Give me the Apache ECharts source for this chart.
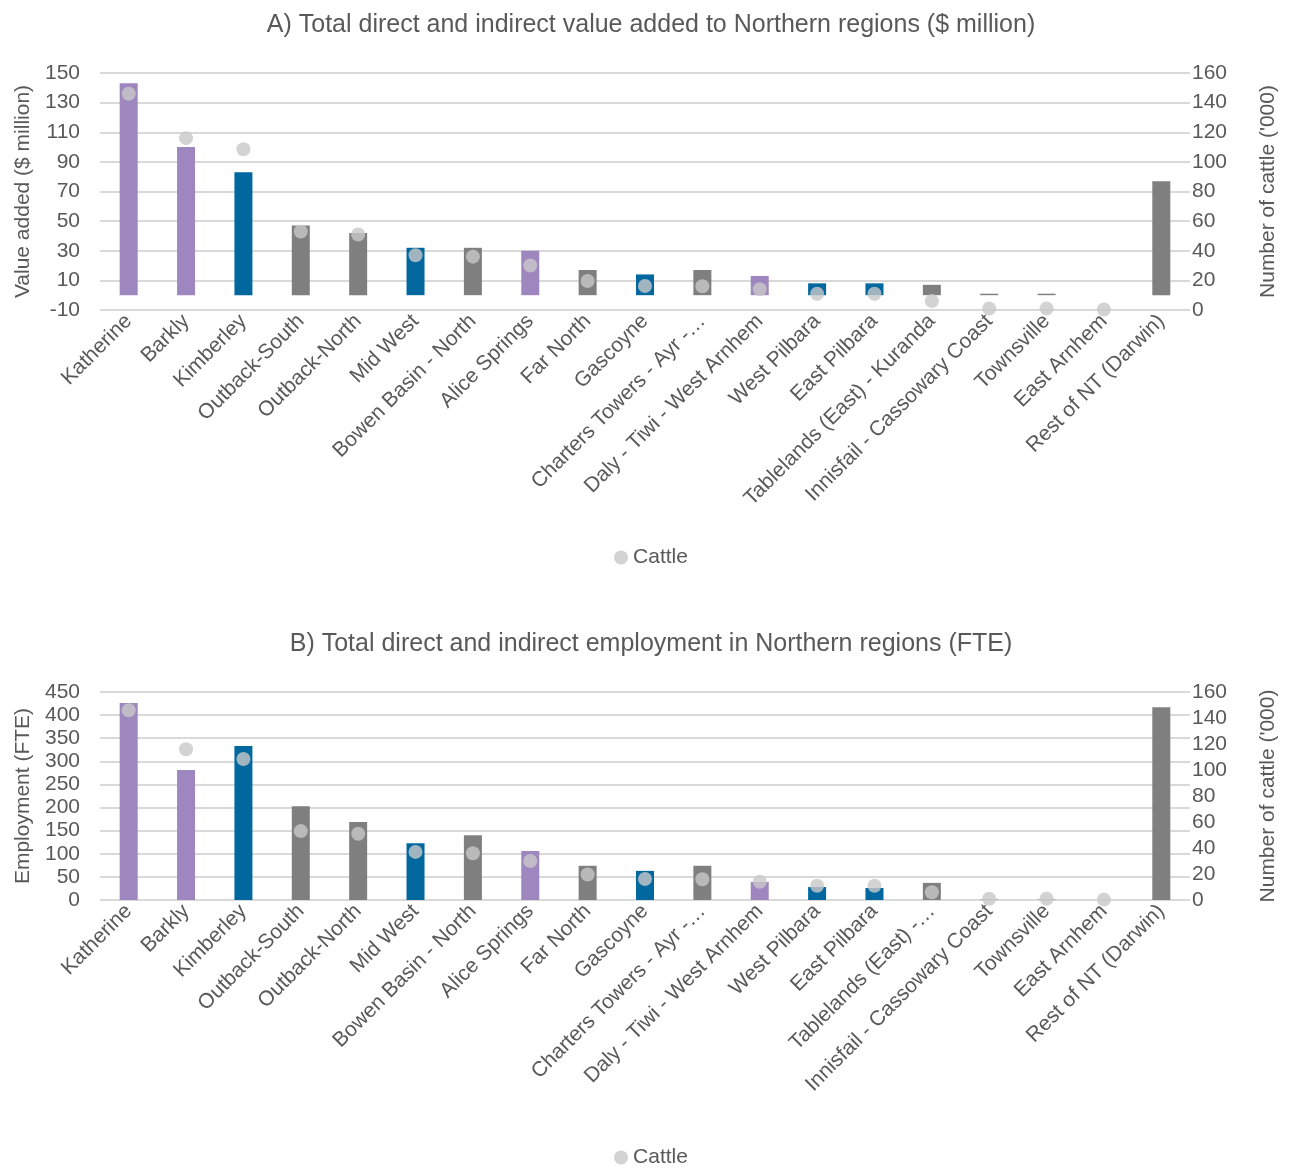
<!DOCTYPE html>
<html>
<head>
<meta charset="utf-8">
<script src="https://cdn.jsdelivr.net/npm/echarts@6/dist/echarts.min.js"></script>
<style>
html,body{margin:0;padding:0;background:#fff;}
#c{width:1302px;height:1169px;}
</style>
</head>
<body>
<div id="c"></div>
<script>
var categories = ["Katherine","Barkly","Kimberley","Outback-South","Outback-North","Mid West","Bowen Basin - North","Alice Springs","Far North","Gascoyne","Charters Towers - Ayr - Ingham","Daly - Tiwi - West Arnhem","West Pilbara","East Pilbara","Tablelands (East) - Kuranda","Innisfail - Cassowary Coast","Townsville","East Arnhem","Rest of NT (Darwin)"];
var labelsA = ["Katherine","Barkly","Kimberley","Outback-South","Outback-North","Mid West","Bowen Basin - North","Alice Springs","Far North","Gascoyne","Charters Towers - Ayr -\u2026","Daly - Tiwi - West Arnhem","West Pilbara","East Pilbara","Tablelands (East) - Kuranda","Innisfail - Cassowary Coast","Townsville","East Arnhem","Rest of NT (Darwin)"];
var labelsB = ["Katherine","Barkly","Kimberley","Outback-South","Outback-North","Mid West","Bowen Basin - North","Alice Springs","Far North","Gascoyne","Charters Towers - Ayr -\u2026","Daly - Tiwi - West Arnhem","West Pilbara","East Pilbara","Tablelands (East) -\u2026","Innisfail - Cassowary Coast","Townsville","East Arnhem","Rest of NT (Darwin)"];
var regionGroup = ["NT","NT","WA","QLD","QLD","WA","QLD","NT","QLD","WA","QLD","NT","WA","WA","QLD","QLD","QLD","NT","OTHER"];
var valueAdded = [143, 100, 83, 47, 42, 32, 32, 30, 17, 14, 17, 13, 8, 8, 7, 1, 1, 0, 77];
var employment = [426, 281, 333, 203, 169, 123, 140, 106, 74, 63, 74, 39, 28, 26, 37, 1, 1, 0, 417];
var cattle = [146, 116, 108.5, 53, 51, 37, 36, 30, 19.6, 16.2, 16, 14, 11, 11, 6, 1, 1, 0.3, null];
var leftTicksA = {min: -10, max: 150, interval: 20};
var leftTicksB = {min: 0, max: 450, interval: 50};
var rightTicks = {min: 0, max: 160, interval: 20};

var groupColor = {NT: "#9e86be", WA: "#00689f", QLD: "#7f7f7f", OTHER: "#7f7f7f"};

var FONT = "'Liberation Sans Narrow','Arial Narrow','Liberation Sans',Arial,sans-serif";
var TXT = "#595959";

function barData(vals){
  return vals.map(function(v, i){ return {value: v, itemStyle: {color: groupColor[regionGroup[i]]}}; });
}
function xAxisFor(gridIndex, labels){
  return {
    type: "category", gridIndex: gridIndex, data: categories,
    axisLine: {show: false, onZero: false}, axisTick: {show: false},
    axisLabel: {rotate: 45, interval: 0, color: TXT, fontFamily: FONT, fontSize: 21, margin: 8,
      formatter: function(v, i){ return labels[i]; }}
  };
}
function yAxisFor(gridIndex, ticks, name, pos, showSplit, gap, margin){
  return {
    type: "value", gridIndex: gridIndex, position: pos,
    min: ticks.min, max: ticks.max, interval: ticks.interval,
    name: name, nameLocation: "middle", nameGap: gap,
    nameTextStyle: {color: TXT, fontFamily: FONT, fontSize: 21},
    axisLine: {show: false}, axisTick: {show: false},
    axisLabel: {color: TXT, fontFamily: FONT, fontSize: 21, margin: margin},
    splitLine: {show: showSplit, lineStyle: {color: "#d9d9d9", width: 2}}
  };
}

var chart = echarts.init(document.getElementById("c"), null, {renderer: "canvas"});
chart.setOption({
  backgroundColor: "#fff",
  animation: false,
  title: [
    {text: "A) Total direct and indirect value added to Northern regions ($ million)", left: "center", top: 8,
     textStyle: {color: TXT, fontFamily: FONT, fontSize: 25, fontWeight: "normal"}},
    {text: "B) Total direct and indirect employment in Northern regions (FTE)", left: "center", top: 627,
     textStyle: {color: TXT, fontFamily: FONT, fontSize: 25, fontWeight: "normal"}}
  ],
  legend: [
    {data: ["Cattle"], top: 542, left: "center", icon: "circle", itemWidth: 14, itemHeight: 14, itemGap: 4,
     textStyle: {color: TXT, fontFamily: FONT, fontSize: 21}},
    {data: ["Cattle"], top: 1142, left: "center", icon: "circle", itemWidth: 14, itemHeight: 14, itemGap: 4,
     textStyle: {color: TXT, fontFamily: FONT, fontSize: 21}}
  ],
  grid: [
    {left: 100, width: 1090, top: 73, height: 237},
    {left: 100, width: 1090, top: 692, height: 208}
  ],
  xAxis: [xAxisFor(0, labelsA), xAxisFor(1, labelsB)],
  yAxis: [
    yAxisFor(0, leftTicksA, "Value added ($ million)", "left", true, 66, 20),
    yAxisFor(0, rightTicks, "Number of cattle ('000)", "right", false, 68, 2),
    yAxisFor(1, leftTicksB, "Employment (FTE)", "left", true, 66, 20),
    yAxisFor(1, rightTicks, "Number of cattle ('000)", "right", false, 68, 2)
  ],
  series: [
    {name: "Value added", type: "bar", xAxisIndex: 0, yAxisIndex: 0, barWidth: 18, data: barData(valueAdded)},
    {name: "Cattle", type: "scatter", xAxisIndex: 0, yAxisIndex: 1, symbol: "circle", symbolSize: 14,
     itemStyle: {color: "#c8c8c8"}, data: cattle},
    {name: "Employment", type: "bar", xAxisIndex: 1, yAxisIndex: 2, barWidth: 18, data: barData(employment)},
    {name: "Cattle", type: "scatter", xAxisIndex: 1, yAxisIndex: 3, symbol: "circle", symbolSize: 14,
     itemStyle: {color: "#c8c8c8"}, data: cattle}
  ]
});
</script>
</body>
</html>
